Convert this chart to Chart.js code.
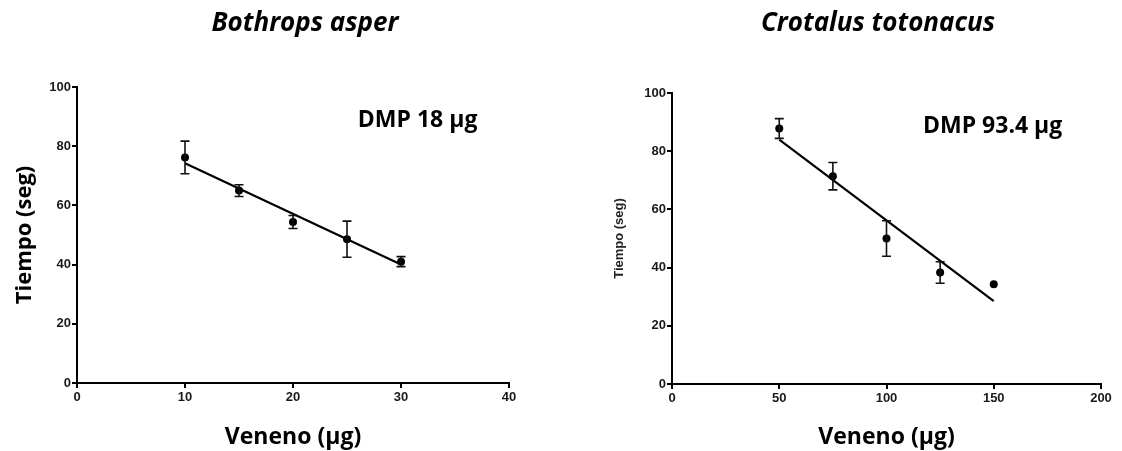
<!DOCTYPE html>
<html><head><meta charset="utf-8">
<script src="https://cdn.jsdelivr.net/npm/chart.js@4/dist/chart.umd.min.js"></script>
<style>
html,body{margin:0;padding:0;background:#fff;}
#wrap{position:relative;width:1122px;height:451px;overflow:hidden;background:#fff;}
canvas{position:absolute;top:0;}
</style></head><body>
<div id="wrap">
<canvas id="c1" width="561" height="451" style="left:0px;width:561px;height:451px"></canvas>
<canvas id="c2" width="561" height="451" style="left:561px;width:561px;height:451px"></canvas>
</div>
<script>
// ---- data ----
const asperDose = [10, 15, 20, 25, 30];
const asperTime = [76.2, 65.0, 54.4, 48.6, 41.0];
const asperErr = [5.5, 2.0, 2.2, 6.1, 1.7];
const asperFitDose = [10, 30];
const asperFitTime = [74.2, 40.0];
const asperXTicks = [0, 10, 20, 30, 40];

const totoDose = [50, 75, 100, 125, 150];
const totoTime = [87.8, 71.4, 50.0, 38.3, 34.3];
const totoErr = [3.4, 4.7, 6.1, 3.7, 0];
const totoFitDose = [50, 150];
const totoFitTime = [84.0, 28.5];
const totoXTicks = [0, 50, 100, 150, 200];

const yTicks = [0, 20, 40, 60, 80, 100];

const titles = ['Bothrops asper', 'Crotalus totonacus'];
const notes = ['DMP 18 µg', 'DMP 93.4 µg'];
const xTitle = 'Veneno (µg)';
const yTitle = 'Tiempo (seg)';

// ---- plugins ----
const errorBars = {
  id: 'errorBars',
  afterDatasetsDraw(chart) {
    const ctx = chart.ctx, xs = chart.scales.x, ys = chart.scales.y;
    chart.data.datasets.forEach(ds => {
      if (!ds.errors) return;
      ctx.save();
      ctx.strokeStyle = '#111';
      ctx.lineWidth = 1.6;
      ds.data.forEach((p, i) => {
        const e = ds.errors[i];
        if (!e) return;
        const x = xs.getPixelForValue(p.x);
        const yt = ys.getPixelForValue(p.y + e);
        const yb = ys.getPixelForValue(p.y - e);
        ctx.beginPath();
        ctx.moveTo(x, yt); ctx.lineTo(x, yb);
        ctx.moveTo(x - 4.5, yt); ctx.lineTo(x + 4.5, yt);
        ctx.moveTo(x - 4.5, yb); ctx.lineTo(x + 4.5, yb);
        ctx.stroke();
      });
      ctx.restore();
    });
  }
};

const textMarks = {
  id: 'textMarks',
  afterDraw(chart, args, opts) {
    const ctx = chart.ctx;
    ctx.save();
    ctx.fillStyle = '#000';
    // panel title
    ctx.font = 'italic bold 26px "Open Sans"';
    ctx.textAlign = 'center';
    ctx.textBaseline = 'middle';
    ctx.fillText(opts.title, opts.titleX, opts.titleY);
    // DMP note placed in data units
    ctx.font = 'bold 23px "Open Sans"';
    ctx.textAlign = 'left';
    ctx.textBaseline = 'alphabetic';
    ctx.fillText(opts.note, chart.scales.x.getPixelForValue(opts.noteAt[0]), chart.scales.y.getPixelForValue(opts.noteAt[1]));
    ctx.restore();
  }
};

function makeChart(id, cfg) {
  const tickFont = {family: '"Liberation Sans", Arial, sans-serif', size: 13, weight: 'bold'};
  return new Chart(document.getElementById(id), {
    type: 'scatter',
    data: {
      datasets: [
        {
          data: cfg.dose.map((d, i) => ({x: d, y: cfg.time[i]})),
          errors: cfg.err,
          pointRadius: 4,
          pointBackgroundColor: '#000',
          pointBorderColor: '#000',
          pointBorderWidth: 0,
          showLine: false
        },
        {
          data: cfg.fitDose.map((d, i) => ({x: d, y: cfg.fitTime[i]})),
          showLine: true,
          borderColor: '#000',
          borderWidth: 2.2,
          pointRadius: 0,
          fill: false
        }
      ]
    },
    options: {
      responsive: false,
      animation: false,
      devicePixelRatio: 1,
      layout: {padding: {left: 0, right: cfg.padRight, top: cfg.padTop, bottom: 0}},
      plugins: {
        legend: {display: false},
        tooltip: {enabled: false},
        textMarks: {title: cfg.title, titleX: cfg.titleX, titleY: 24, note: cfg.note, noteAt: cfg.noteAt}
      },
      scales: {
        x: {
          type: 'linear',
          min: cfg.xTicks[0],
          max: cfg.xTicks[cfg.xTicks.length - 1],
          afterBuildTicks: s => { s.ticks = cfg.xTicks.map(v => ({value: v})); },
          afterFit: s => { s.height = cfg.xHeight; },
          border: {display: true, color: '#000', width: 2},
          grid: {drawOnChartArea: false, drawTicks: true, tickLength: 5, color: '#000', lineWidth: 2},
          ticks: {font: tickFont, color: '#1a1a1a', padding: 2, maxRotation: 0},
          title: {display: true, text: xTitle, color: '#000',
                  font: {family: '"Open Sans"', size: 23, weight: 'bold'}, padding: {top: 0, bottom: 0}}
        },
        y: {
          type: 'linear',
          min: 0,
          max: 100,
          afterBuildTicks: s => { s.ticks = yTicks.map(v => ({value: v})); },
          afterFit: s => { s.width = cfg.yWidth; },
          border: {display: true, color: '#000', width: 2},
          grid: {drawOnChartArea: false, drawTicks: true, tickLength: 5, color: '#000', lineWidth: 2},
          ticks: {font: tickFont, color: '#1a1a1a', padding: 1},
          title: {display: true, text: yTitle, color: cfg.yTitleColor,
                  font: cfg.yTitleFont, padding: {top: cfg.yTitlePad, bottom: 0}}
        }
      }
    },
    plugins: [errorBars, textMarks]
  });
}

makeChart('c1', {
  dose: asperDose, time: asperTime, err: asperErr,
  fitDose: asperFitDose, fitTime: asperFitTime, xTicks: asperXTicks,
  padRight: 52, padTop: 87, xHeight: 68, yWidth: 77,
  title: titles[0], titleX: 305, note: notes[0], noteAt: [26.0, 86.4],
  yTitleFont: {family: '"Open Sans"', size: 22, weight: 'bold'}, yTitlePad: 12, yTitleColor: '#000'
});

makeChart('c2', {
  dose: totoDose, time: totoTime, err: totoErr,
  fitDose: totoFitDose, fitTime: totoFitTime, xTicks: totoXTicks,
  padRight: 21, padTop: 93, xHeight: 67, yWidth: 111,
  title: titles[1], titleX: 317, note: notes[1], noteAt: [117, 86.2],
  yTitleFont: {family: '"Liberation Sans", Arial, sans-serif', size: 13, weight: 'bold'}, yTitlePad: 51, yTitleColor: '#222'
});
</script>
</body></html>
